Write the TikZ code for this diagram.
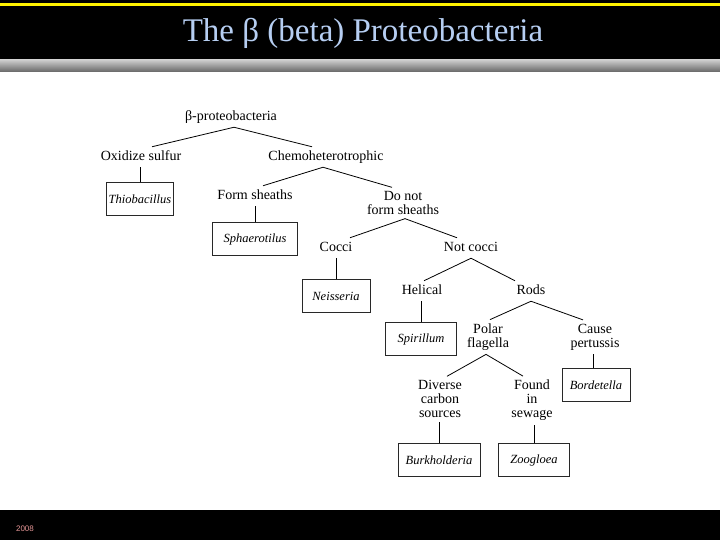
\documentclass[tikz,border=0pt]{standalone}
\usepackage{fontspec}
\setmainfont{Liberation Serif}
\newfontfamily\slidesans{Liberation Sans}
\usepackage{xcolor}
\usetikzlibrary{positioning, calc}
\definecolor{titleblue}{RGB}{182, 206, 242}
\definecolor{yearpink}{RGB}{230, 150, 150}
\definecolor{boxgray}{RGB}{40, 40, 40}

\begin{document}
\begin{tikzpicture}[
    x=1pt, y=-1pt,
    traits/.style={align=center, inner sep=0pt, outer ysep=4pt, font=\fontsize{14}{14}\selectfont},
    trait/.style={traits, text height=9.5pt, text depth=3pt},
    genus/.style={rectangle, draw=boxgray, line width=0.9pt, minimum height=33pt, inner sep=0pt, font=\fontsize{12.5}{14}\selectfont\itshape},
    branch/.style={line width=0.8pt, black}
]

% Slide frame
\useasboundingbox (0,0) rectangle (720,540);
\fill [white] (0,0) rectangle (720,540);
\fill [black] (0,0) rectangle (720,60);
\fill [yellow] (0,3) rectangle (720,6);
\shade [top color=black!20, bottom color=black!60] (0,60) rectangle (720,72);
\fill [black] (0,510) rectangle (720,540);

\node (slide_title) [text=titleblue, font=\fontsize{33}{36}\selectfont] at (363,33) {The β (beta) Proteobacteria};
\node (slide_year) [text=yearpink, font=\slidesans\fontsize{8}{9}\selectfont, inner sep=0pt] at (25,529) {2008};

% Traits
\node (beta_root) [trait] at (231,117) {β-proteobacteria};
\node (oxidize_sulfur) [trait] at (141,157) {Oxidize sulfur};
\node (chemohetero) [trait] at (326,157) {Chemoheterotrophic};
\node (form_sheaths) [trait] at (255,196) {Form sheaths};
\node (no_sheaths) [traits] at (403,203) {Do not\\form sheaths};
\node (cocci) [trait] at (336,248) {Cocci};
\node (not_cocci) [trait] at (471,248) {Not cocci};
\node (helical) [trait] at (422,291) {Helical};
\node (rods) [trait] at (531,291) {Rods};
\node (polar_flagella) [traits] at (488,337) {Polar\\flagella};
\node (cause_pertussis) [traits] at (595,337) {Cause\\pertussis};
\node (diverse_carbon) [traits] at (440,399) {Diverse\\carbon\\sources};
\node (found_sewage) [traits] at (532,400.5) {Found\\in\\sewage};

% Genera
\node (thiobacillus) [genus, minimum width=67pt] at (140,199) {Thiobacillus};
\node (sphaerotilus) [genus, minimum width=85pt] at (255,239) {Sphaerotilus};
\node (neisseria) [genus, minimum width=68pt] at (336,296) {Neisseria};
\node (spirillum) [genus, minimum width=71pt] at (421,339) {Spirillum};
\node (bordetella) [genus, minimum width=68pt] at (596,385) {Bordetella};
\node (burkholderia) [genus, minimum width=82pt] at (439,460) {Burkholderia};
\node (zoogloea) [genus, minimum width=71pt] at (534,460) {Zoogloea};

% Branches
\draw [branch] ([xshift=11pt]oxidize_sulfur.north) -- ([xshift=3pt]beta_root.south) -- ([xshift=-14pt]chemohetero.north);
\draw [branch] ([xshift=8pt]form_sheaths.north) -- ([xshift=-3pt]chemohetero.south) -- ([xshift=-11pt]no_sheaths.north);
\draw [branch] ([xshift=14pt]cocci.north) -- ([xshift=2pt]no_sheaths.south) -- ([xshift=-14pt]not_cocci.north);
\draw [branch] ([xshift=2pt]helical.north) -- (not_cocci.south) -- ([xshift=-16pt]rods.north);
\draw [branch] ([xshift=2pt]polar_flagella.north) -- (rods.south) -- ([xshift=-12pt]cause_pertussis.north);
\draw [branch] ([xshift=7pt]diverse_carbon.north) -- ([xshift=-2pt]polar_flagella.south) -- ([xshift=-9pt]found_sewage.north);

% Leaves
\draw [branch] (thiobacillus.north) -- (thiobacillus.north |- oxidize_sulfur.south);
\draw [branch] (sphaerotilus.north) -- (sphaerotilus.north |- form_sheaths.south);
\draw [branch] (neisseria.north) -- (neisseria.north |- cocci.south);
\draw [branch] (spirillum.north) -- (spirillum.north |- helical.south);
\draw [branch] ([xshift=-3pt]bordetella.north) -- ([xshift=-3pt]bordetella.north |- cause_pertussis.south);
\draw [branch] (burkholderia.north) -- (burkholderia.north |- diverse_carbon.south);
\draw [branch] (zoogloea.north) -- (zoogloea.north |- found_sewage.south);

\end{tikzpicture}
\end{document}
